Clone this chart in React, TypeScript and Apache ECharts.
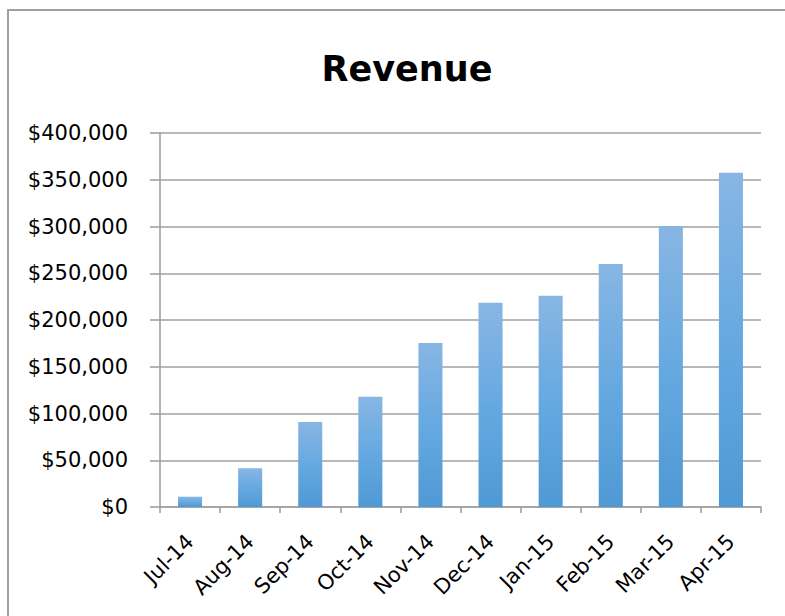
import React, { useEffect, useRef } from "react";
import * as echarts from "echarts";

const categories = ["Jul-14", "Aug-14", "Sep-14", "Oct-14", "Nov-14", "Dec-14", "Jan-15", "Feb-15", "Mar-15", "Apr-15"];
const revenue = [11000, 41500, 91000, 118000, 175500, 218500, 226000, 260000, 300500, 357500];
const yTicks = [0, 50000, 100000, 150000, 200000, 250000, 300000, 350000, 400000];

const fmt = (v: number) => "$" + v.toLocaleString("en-US");

export default function App() {
  const ref = useRef<HTMLDivElement>(null);
  useEffect(() => {
    const chart = echarts.init(ref.current!, undefined, { renderer: "svg" });
    chart.setOption({
      animation: false,
      backgroundColor: "#ffffff",
      title: {
        text: "Revenue",
        left: 402,
        textAlign: "center",
        top: 46,
        textStyle: { fontFamily: "DejaVu Sans", fontWeight: "bold", fontSize: 35, color: "#000" },
      },
      graphic: [
        {
          type: "rect",
          shape: { x: 8, y: 10, width: 800, height: 640 },
          style: { fill: "none", stroke: "#a0a0a0", lineWidth: 2 },
          silent: true,
        },
      ],
      grid: { left: 160, right: 24, top: 133, bottom: 109 },
      xAxis: {
        type: "category",
        data: categories,
        boundaryGap: true,
        axisLine: { lineStyle: { color: "#a0a0a0", width: 1.6 } },
        axisTick: { show: true, length: 6, inside: false, lineStyle: { color: "#a0a0a0", width: 1.6 } },
        axisLabel: {
          rotate: 45,
          interval: 0,
          margin: 31,
          fontFamily: "DejaVu Sans",
          fontSize: 21,
          color: "#000",
        },
      },
      yAxis: {
        type: "value",
        min: 0,
        max: yTicks[yTicks.length - 1],
        interval: yTicks[1] - yTicks[0],
        axisLine: { show: true, lineStyle: { color: "#a0a0a0", width: 1.6 } },
        axisTick: { show: true, length: 10, inside: false, lineStyle: { color: "#a0a0a0", width: 1.6 } },
        splitLine: { show: true, lineStyle: { color: "#a0a0a0", width: 1.6 } },
        axisLabel: {
          margin: 32,
          fontFamily: "DejaVu Sans",
          fontSize: 21,
          color: "#000",
          formatter: (v: number) => fmt(v),
        },
      },
      series: [
        {
          type: "bar",
          data: revenue,
          barWidth: "40%",
          itemStyle: {
            color: new echarts.graphic.LinearGradient(0, 0, 0, 1, [
              { offset: 0, color: "#88b6e3" },
              { offset: 0.5, color: "#66a9e1" },
              { offset: 1, color: "#4f99d4" },
            ]),
          },
        },
      ],
    });
    return () => chart.dispose();
  }, []);
  return (
    <div
      ref={ref}
      style={{ position: "absolute", left: 0, top: 0, width: 785, height: 616 }}
    />
  );
}
